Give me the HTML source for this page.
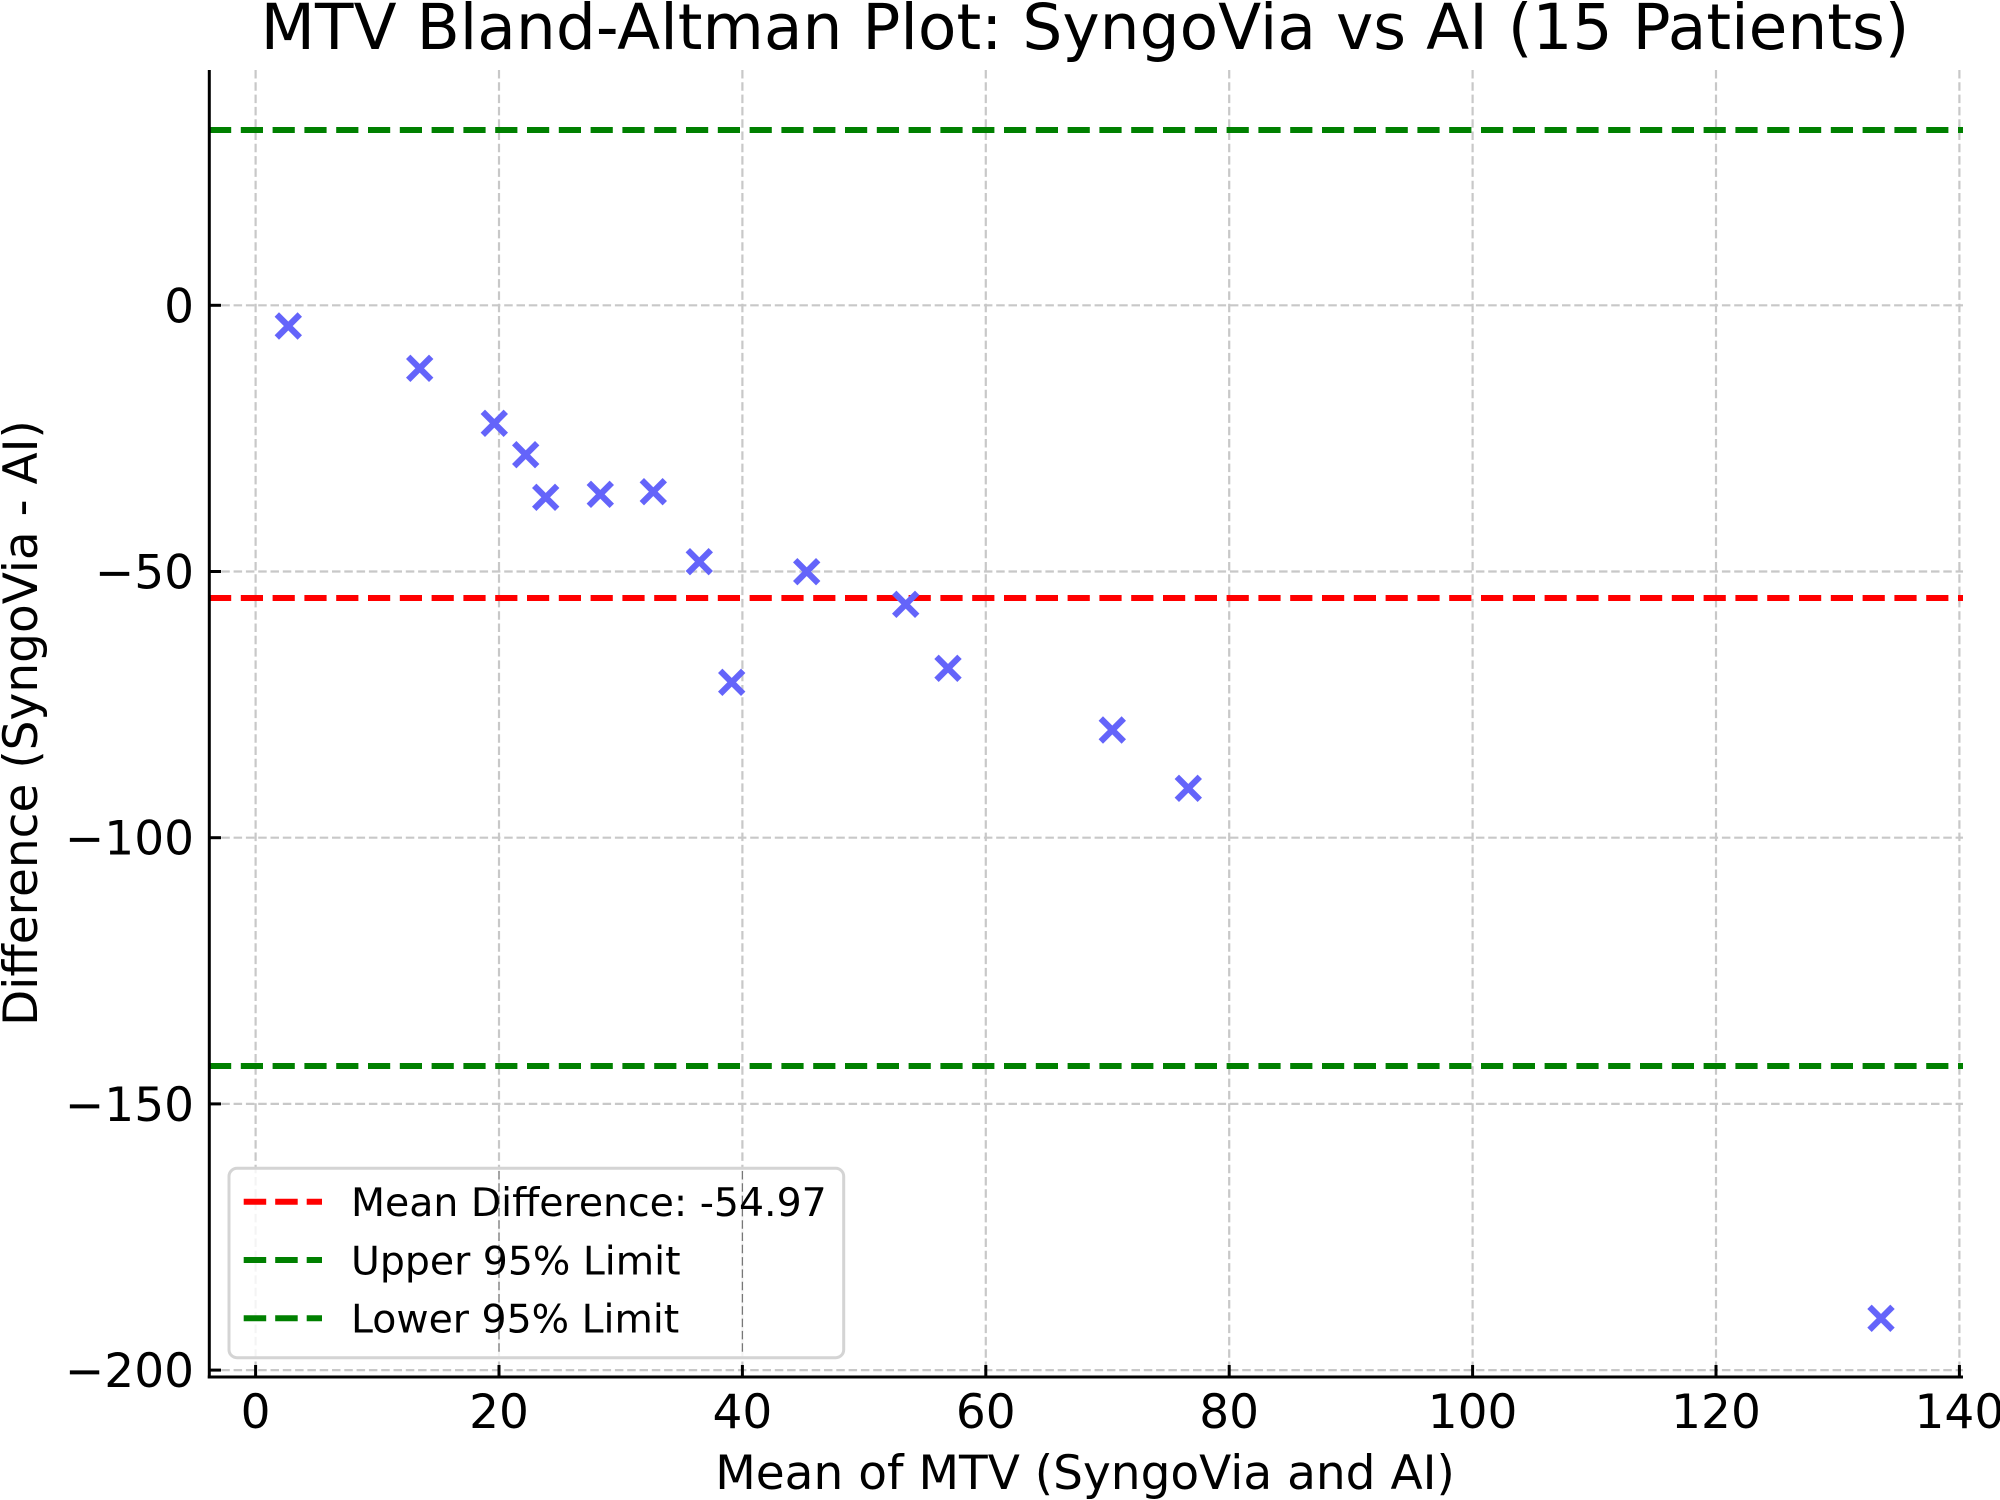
<!DOCTYPE html>
<html>
<head>
<meta charset="utf-8">
<style>
  html, body { margin: 0; padding: 0; background: #ffffff; }
  svg { display: block; }
  text { font-family: "DejaVu Sans", "Liberation Sans", sans-serif; fill: #000; }
</style>
</head>
<body>
<svg width="2000" height="1500" viewBox="0 0 2000 1500" xmlns="http://www.w3.org/2000/svg">
  <rect x="0" y="0" width="2000" height="1500" fill="#ffffff"/>

  <!-- Grid lines -->
  <g stroke="#c8c8c8" stroke-width="2.2" stroke-dasharray="8.5 3.8" fill="none">
    <line x1="255.6" y1="70" x2="255.6" y2="1377"/>
    <line x1="499" y1="70" x2="499" y2="1377"/>
    <line x1="742.4" y1="70" x2="742.4" y2="1377"/>
    <line x1="985.8" y1="70" x2="985.8" y2="1377"/>
    <line x1="1229.2" y1="70" x2="1229.2" y2="1377"/>
    <line x1="1472.6" y1="70" x2="1472.6" y2="1377"/>
    <line x1="1716" y1="70" x2="1716" y2="1377"/>
    <line x1="1959.4" y1="70" x2="1959.4" y2="1377"/>
    <line x1="209" y1="305.3" x2="1963" y2="305.3"/>
    <line x1="209" y1="571.5" x2="1963" y2="571.5"/>
    <line x1="209" y1="837.7" x2="1963" y2="837.7"/>
    <line x1="209" y1="1103.9" x2="1963" y2="1103.9"/>
    <line x1="209" y1="1370.1" x2="1963" y2="1370.1"/>
  </g>

  <!-- Reference lines -->
  <g stroke-width="6" stroke-dasharray="22.2 9.6" fill="none">
    <line x1="209" y1="130" x2="1963" y2="130" stroke="#008000"/>
    <line x1="209" y1="598" x2="1963" y2="598" stroke="#ff0000"/>
    <line x1="209" y1="1066" x2="1963" y2="1066" stroke="#008000"/>
  </g>

  <!-- Markers -->
  <g stroke="#6464fa" stroke-width="6.2" fill="none">
    <path d="M276.8 314.5 L299.8 337.5 M299.8 314.5 L276.8 337.5"/>
    <path d="M408.2 356.8 L431.2 379.8 M431.2 356.8 L408.2 379.8"/>
    <path d="M482.8 411.8 L505.8 434.8 M505.8 411.8 L482.8 434.8"/>
    <path d="M514.2 443.2 L537.2 466.2 M537.2 443.2 L514.2 466.2"/>
    <path d="M534.2 485.8 L557.2 508.8 M557.2 485.8 L534.2 508.8"/>
    <path d="M588.8 482.8 L611.8 505.8 M611.8 482.8 L588.8 505.8"/>
    <path d="M641.8 480.2 L664.8 503.2 M664.8 480.2 L641.8 503.2"/>
    <path d="M687.8 550.2 L710.8 573.2 M710.8 550.2 L687.8 573.2"/>
    <path d="M720.2 670.8 L743.2 693.8 M743.2 670.8 L720.2 693.8"/>
    <path d="M795.2 560.2 L818.2 583.2 M818.2 560.2 L795.2 583.2"/>
    <path d="M894.2 592.8 L917.2 615.8 M917.2 592.8 L894.2 615.8"/>
    <path d="M936.5 656.8 L959.5 679.8 M959.5 656.8 L936.5 679.8"/>
    <path d="M1100.8 718.5 L1123.8 741.5 M1123.8 718.5 L1100.8 741.5"/>
    <path d="M1176.8 776.8 L1199.8 799.8 M1199.8 776.8 L1176.8 799.8"/>
    <path d="M1869.5 1306.8 L1892.5 1329.8 M1892.5 1306.8 L1869.5 1329.8"/>
  </g>

  <!-- Axes spines -->
  <g stroke="#000" stroke-width="3" fill="none">
    <line x1="209.3" y1="70" x2="209.3" y2="1378.5"/>
    <line x1="207.8" y1="1377" x2="1963" y2="1377"/>
  </g>

  <!-- Ticks (inward) -->
  <g stroke="#000" stroke-width="3">
    <line x1="209" y1="305.3" x2="221" y2="305.3"/>
    <line x1="209" y1="571.5" x2="221" y2="571.5"/>
    <line x1="209" y1="837.7" x2="221" y2="837.7"/>
    <line x1="209" y1="1103.9" x2="221" y2="1103.9"/>
    <line x1="209" y1="1370.1" x2="221" y2="1370.1"/>
    <line x1="255.6" y1="1377" x2="255.6" y2="1365"/>
    <line x1="499" y1="1377" x2="499" y2="1365"/>
    <line x1="742.4" y1="1377" x2="742.4" y2="1365"/>
    <line x1="985.8" y1="1377" x2="985.8" y2="1365"/>
    <line x1="1229.2" y1="1377" x2="1229.2" y2="1365"/>
    <line x1="1472.6" y1="1377" x2="1472.6" y2="1365"/>
    <line x1="1716" y1="1377" x2="1716" y2="1365"/>
    <line x1="1959.4" y1="1377" x2="1959.4" y2="1365"/>
  </g>

  <!-- Y tick labels -->
  <g font-size="47" text-anchor="end">
    <text x="194" y="322.3">0</text>
    <text x="194" y="588.5">−50</text>
    <text x="194" y="854.7">−100</text>
    <text x="194" y="1120.9">−150</text>
    <text x="194" y="1387.1">−200</text>
  </g>

  <!-- X tick labels -->
  <g font-size="47" text-anchor="middle">
    <text x="255.6" y="1428">0</text>
    <text x="499" y="1428">20</text>
    <text x="742.4" y="1428">40</text>
    <text x="985.8" y="1428">60</text>
    <text x="1229.2" y="1428">80</text>
    <text x="1472.6" y="1428">100</text>
    <text x="1716" y="1428">120</text>
    <text x="1959.4" y="1428">140</text>
  </g>

  <!-- Axis labels -->
  <text x="1085" y="1489" font-size="47" text-anchor="middle">Mean of MTV (SyngoVia and AI)</text>
  <text transform="translate(37,723) rotate(-90)" font-size="47" text-anchor="middle">Difference (SyngoVia - AI)</text>

  <!-- Title -->
  <text x="1085" y="49" font-size="63" text-anchor="middle">MTV Bland-Altman Plot: SyngoVia vs AI (15 Patients)</text>

  <!-- Legend -->
  <rect x="229" y="1168.3" width="614.7" height="189.4" rx="8" ry="8" fill="#ffffff" fill-opacity="0.8" stroke="#d4d4d4" stroke-width="3"/>
  <g stroke="#777" stroke-width="1.3" stroke-dasharray="8.5 3.8">
    <line x1="499" y1="1171" x2="499" y2="1355"/>
    <line x1="742.4" y1="1171" x2="742.4" y2="1355"/>
  </g>
  <g stroke-width="6" stroke-dasharray="22.5 9">
    <line x1="243.7" y1="1201.7" x2="322" y2="1201.7" stroke="#ff0000"/>
    <line x1="243.7" y1="1260" x2="322" y2="1260" stroke="#008000"/>
    <line x1="243.7" y1="1318.3" x2="322" y2="1318.3" stroke="#008000"/>
  </g>
  <g font-size="39.4">
    <text x="351" y="1216">Mean Difference: -54.97</text>
    <text x="351" y="1274.3">Upper 95% Limit</text>
    <text x="351" y="1332.6">Lower 95% Limit</text>
  </g>
</svg>
</body>
</html>
